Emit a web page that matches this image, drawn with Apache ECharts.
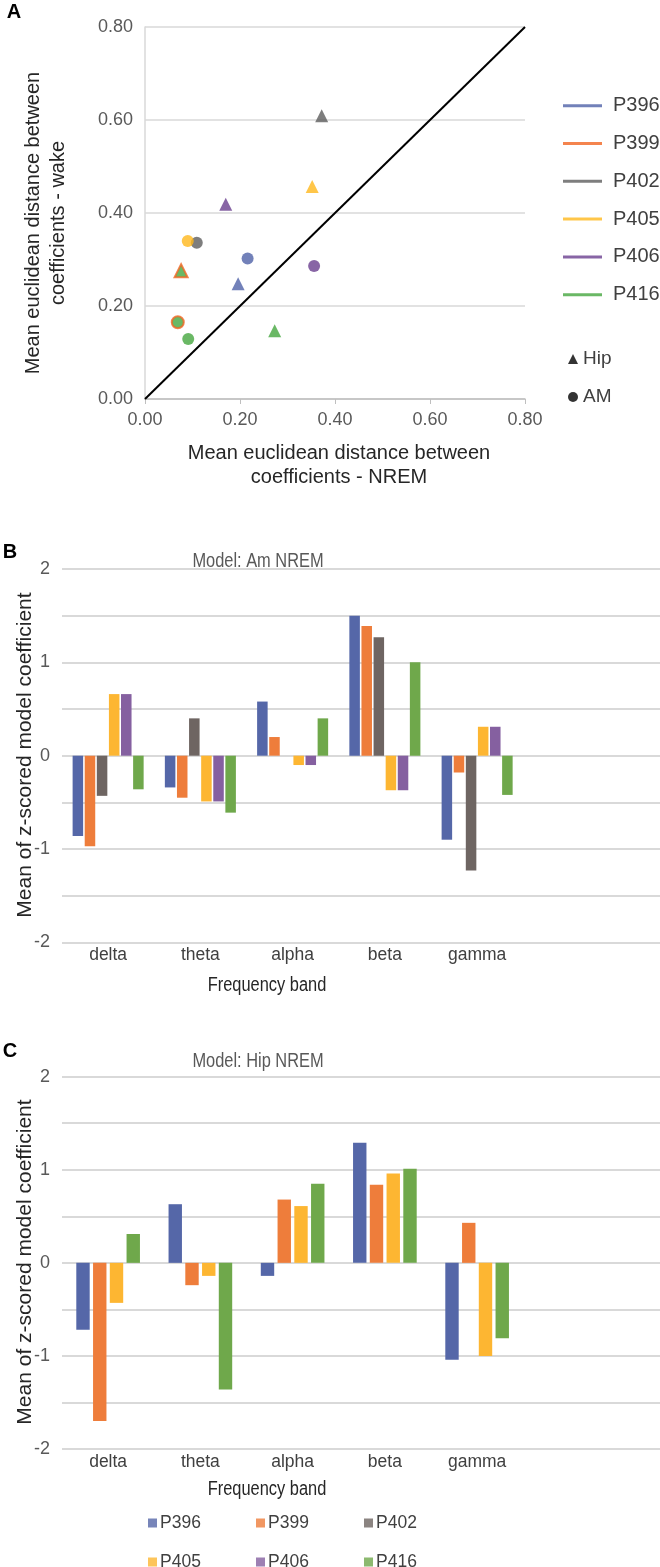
<!DOCTYPE html>
<html><head><meta charset="utf-8">
<script src="https://cdn.jsdelivr.net/npm/echarts@6/dist/echarts.min.js"></script>
<style>html,body{margin:0;padding:0;background:#fff}#c{width:660px;height:1567px}</style>
</head><body><div id="c"></div>
<script>
// ---------- data ----------
const participants = ['P396', 'P399', 'P402', 'P405', 'P406', 'P416'];
// Panel A: mean euclidean distance (x: NREM, y: wake)
const hipNrem = [0.196, 0.076, 0.372, 0.352, 0.170, 0.273];
const hipWake = [0.248, 0.276, 0.609, 0.457, 0.419, 0.147];
const amNrem  = [0.216, 0.069, 0.109, 0.090, 0.356, 0.091];
const amWake  = [0.302, 0.165, 0.336, 0.340, 0.286, 0.129];
const diagonal = [0, 0.8];
const axisATicks = [0, 0.2, 0.4, 0.6, 0.8];
// Panel B / C
const bands = ['delta', 'theta', 'alpha', 'beta', 'gamma'];
const amP396 = [-0.86, -0.34, 0.58, 1.50, -0.90];
const amP399 = [-0.97, -0.45, 0.20, 1.39, -0.18];
const amP402 = [-0.43, 0.40, 0, 1.27, -1.23];
const amP405 = [0.66, -0.49, -0.10, -0.37, 0.31];
const amP406 = [0.66, -0.49, -0.10, -0.37, 0.31];
const amP416 = [-0.36, -0.61, 0.40, 1.00, -0.42];
const hipParticipants = ['P396', 'P399', 'P405', 'P416'];
const hipP396 = [-0.72, 0.63, -0.14, 1.29, -1.04];
const hipP399 = [-1.70, -0.24, 0.68, 0.84, 0.43];
const hipP405 = [-0.43, -0.14, 0.61, 0.96, -1.00];
const hipP416 = [0.31, -1.36, 0.85, 1.01, -0.81];

// ---------- styles ----------
const scatterColors = ['#4F62A8', '#F16522', '#5E5E5E', '#FFB81C', '#6A3E8E', '#45A63E'];
const barColors = ['#5567A8', '#EE7D3B', '#6E6562', '#FDB632', '#8560A0', '#6FA84B'];
const SANS = "'Liberation Sans', Arial, sans-serif";
const GRID = '#d9d9d9';

const amArrays = [amP396, amP399, amP402, amP405, amP406, amP416];
const hipArrays = [hipP396, hipP399, hipP405, hipP416];

const chart = echarts.init(document.getElementById('c'), null, {renderer: 'canvas'});

const series = [];
series.push({
  type: 'line', xAxisIndex: 0, yAxisIndex: 0, silent: true, symbol: 'none', z: 3,
  data: [[diagonal[0], diagonal[0]], [diagonal[1], diagonal[1]]],
  lineStyle: {color: '#000', width: 2}
});
participants.forEach((p, i) => {
  series.push({
    type: 'scatter', name: p, xAxisIndex: 0, yAxisIndex: 0, z: 5,
    data: [
      {value: [hipNrem[i], hipWake[i]], symbol: 'triangle', symbolSize: 13},
      {value: [amNrem[i], amWake[i]], symbol: 'circle', symbolSize: 12}
    ],
    itemStyle: i === 1 ? {color: scatterColors[5], borderColor: scatterColors[1], borderWidth: 2}
                       : {color: scatterColors[i]},
    emphasis: {disabled: true}
  });
});
series.push({type: 'scatter', name: 'Hip', xAxisIndex: 0, yAxisIndex: 0, data: [], itemStyle: {color: '#000'}});
series.push({type: 'scatter', name: 'AM', xAxisIndex: 0, yAxisIndex: 0, data: [], itemStyle: {color: '#000'}});

participants.forEach((p, i) => {
  series.push({
    type: 'bar', name: p, xAxisIndex: 2, yAxisIndex: 2, data: amArrays[i],
    barCategoryGap: '23%', barGap: '15%',
    itemStyle: {color: barColors[i]}, emphasis: {disabled: true}
  });
});
hipParticipants.forEach((p, k) => {
  const i = participants.indexOf(p);
  series.push({
    type: 'bar', name: p, xAxisIndex: 4, yAxisIndex: 4, data: hipArrays[k],
    barCategoryGap: '31%', barGap: '25%',
    itemStyle: {color: barColors[i]}, emphasis: {disabled: true}
  });
});

const intOnly = v => (Math.abs(v - Math.round(v)) < 1e-9 ? String(Math.round(v)) : '');

function lineGridY(idx) {
  return {
    gridIndex: idx, type: 'value', min: -2, max: 2, interval: 0.5,
    axisLine: {show: false}, axisTick: {show: false},
    splitLine: {show: true, lineStyle: {color: GRID, width: 2}},
    axisLabel: {formatter: intOnly, fontFamily: SANS, fontSize: 18, color: '#595959', margin: 12}
  };
}

const legends = [
  {
    orient: 'vertical', left: 558, top: 90.7, icon: 'rect', itemWidth: 39, itemHeight: 3, itemGap: 17.8,
    selectedMode: false,
    textStyle: {fontFamily: SANS, fontSize: 20, lineHeight: 20, color: '#404040', padding: [0, 0, 0, 6]},
    data: participants.map((p, i) => ({name: p, itemStyle: {color: scatterColors[i], borderWidth: 0}}))
  },
  {
    orient: 'vertical', left: 563, top: 344, itemWidth: 10, itemHeight: 10, itemGap: 18,
    selectedMode: false,
    textStyle: {fontFamily: SANS, fontSize: 19, lineHeight: 20, color: '#404040'},
    data: [{name: 'Hip', icon: 'triangle'}, {name: 'AM', icon: 'circle'}]
  }
];
const legX = [143, 251, 359];
const legY = [1518, 1557];
participants.forEach((p, i) => {
  legends.push({
    left: legX[i % 3], top: legY[Math.floor(i / 3)] - 10, icon: 'rect', itemWidth: 9, itemHeight: 9,
    selectedMode: false, itemGap: 4,
    textStyle: {fontFamily: SANS, fontSize: 17.5, lineHeight: 20, color: '#404040', padding: [0, 0, 0, -2]},
    data: [{name: p, itemStyle: {color: barColors[i], borderWidth: 0}}]
  });
});

function txt(x, y, s, opt, sx) {
  return {
    type: 'text', x: x, y: y, scaleX: sx || 1,
    style: Object.assign({text: s, fill: '#262626', font: '20px ' + SANS, textAlign: 'center', textVerticalAlign: 'middle'}, opt || {})
  };
}
function rtxt(x, y, s, font) {
  return {
    type: 'text', x: x, y: y, rotation: Math.PI / 2,
    style: {text: s, fill: '#262626', font: font, textAlign: 'center', textVerticalAlign: 'middle'}
  };
}

const option = {
  animation: false,
  backgroundColor: '#fff',
  grid: [
    {left: 145, top: 27, width: 380, height: 372},
    {left: 62, top: 569, width: 598, height: 373.4},
    {left: 62, top: 569, width: 461.25, height: 373.4},
    {left: 62, top: 1076.7, width: 598, height: 372.3},
    {left: 62, top: 1076.7, width: 461.25, height: 372.3}
  ],
  xAxis: [
    {gridIndex: 0, type: 'value', min: axisATicks[0], max: axisATicks[4], interval: 0.2,
     axisLine: {show: true, lineStyle: {color: '#bfbfbf', width: 1.5}},
     axisTick: {show: true, length: 5, lineStyle: {color: '#bfbfbf'}},
     splitLine: {show: false},
     axisLabel: {formatter: v => v.toFixed(2), fontFamily: SANS, fontSize: 18, color: '#595959', margin: 12}},
    {gridIndex: 1, type: 'value', min: 0, max: 1, show: false},
    {gridIndex: 2, type: 'category', data: bands, axisLine: {show: false}, axisTick: {show: false},
     axisLabel: {fontFamily: SANS, fontSize: 17.5, color: '#404040', margin: 4}},
    {gridIndex: 3, type: 'value', min: 0, max: 1, show: false},
    {gridIndex: 4, type: 'category', data: bands, axisLine: {show: false}, axisTick: {show: false},
     axisLabel: {fontFamily: SANS, fontSize: 17.5, color: '#404040', margin: 4}}
  ],
  yAxis: [
    {gridIndex: 0, type: 'value', min: axisATicks[0], max: axisATicks[4], interval: 0.2,
     axisLine: {show: true, lineStyle: {color: GRID, width: 1.5}}, axisTick: {show: false},
     splitLine: {show: true, lineStyle: {color: GRID, width: 1.5}},
     axisLabel: {formatter: v => v.toFixed(2), fontFamily: SANS, fontSize: 18, color: '#595959', margin: 12}},
    lineGridY(1),
    {gridIndex: 2, type: 'value', min: -2, max: 2, show: false},
    lineGridY(3),
    {gridIndex: 4, type: 'value', min: -2, max: 2, show: false}
  ],
  legend: legends,
  series: series,
  graphic: [
    txt(14, 12, 'A', {font: 'bold 20px ' + SANS, fill: '#000'}),
    txt(10, 552, 'B', {font: 'bold 20px ' + SANS, fill: '#000'}),
    txt(10, 1051, 'C', {font: 'bold 20px ' + SANS, fill: '#000'}),
    txt(339, 453, 'Mean euclidean distance between', {font: '20px ' + SANS}),
    txt(339, 477, 'coefficients - NREM', {font: '20px ' + SANS}),
    rtxt(33, 223, 'Mean euclidean distance between', '20px ' + SANS),
    rtxt(58, 223, 'coefficients - wake', '20px ' + SANS),
    txt(258, 561, 'Model: Am NREM', {font: '20px ' + SANS, fill: '#595959'}, 0.82),
    txt(267, 985, 'Frequency band', {font: '20px ' + SANS}, 0.82),
    rtxt(25, 755, 'Mean of z-scored model coefficient', '21px ' + SANS),
    txt(258, 1061, 'Model: Hip NREM', {font: '20px ' + SANS, fill: '#595959'}, 0.82),
    txt(267, 1489, 'Frequency band', {font: '20px ' + SANS}, 0.82),
    rtxt(25, 1262, 'Mean of z-scored model coefficient', '21px ' + SANS)
  ]
};
chart.setOption(option);
</script></body></html>
